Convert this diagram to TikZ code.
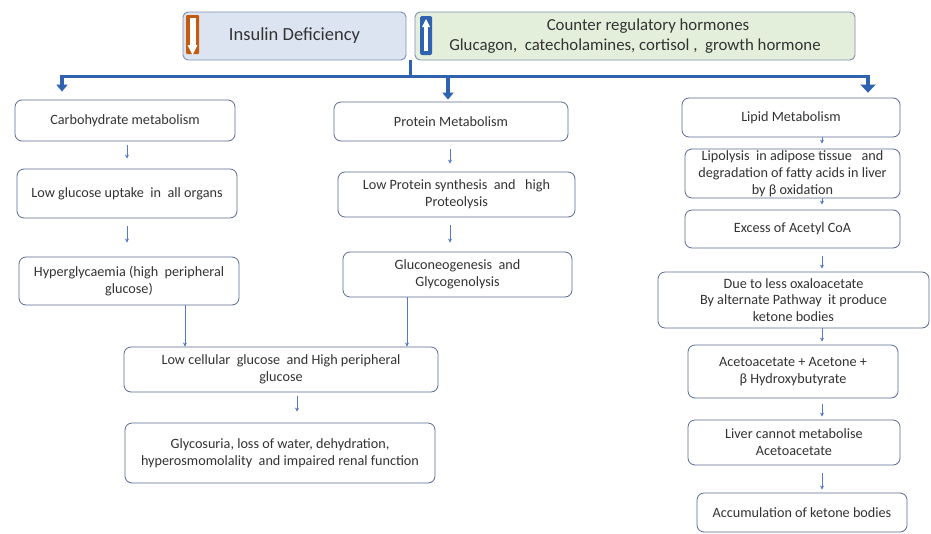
\documentclass[tikz,border=0pt]{standalone}
\usepackage{fontspec}
\setmainfont{Carlito}
\usetikzlibrary{arrows.meta,calc}
\definecolor{bord}{HTML}{5B6A94}
\definecolor{hbord}{HTML}{7F8FB0}
\definecolor{txt}{HTML}{333333}
\definecolor{insfill}{HTML}{DCE4F2}
\definecolor{cntfill}{HTML}{E3EFDB}
\definecolor{bigc}{HTML}{2F62B0}
\definecolor{arrc}{HTML}{5578C8}
\definecolor{orng}{HTML}{C55A11}
\newcommand\bodyfs{\fontsize{14.2}{16.8}\selectfont}
\newcommand\headfs{\fontsize{18.5}{21}\selectfont}
\newcommand\cntfs{\fontsize{16.8}{20.5}\selectfont}
\begin{document}
\begin{tikzpicture}[x=1pt,y=-1pt,
  box/.style={draw=bord, line width=0.8pt, rounded corners=7pt, fill=white, text=txt, align=center, font=\bodyfs, inner sep=1pt},
  hbox/.style={draw=hbord, line width=0.9pt, rounded corners=5pt, text=txt, align=center, inner sep=1pt},
  sarr/.style={draw=arrc, line width=0.6pt, -{Stealth[length=4pt,width=4pt]}},
  bigline/.style={draw=bigc, line width=3.8pt},
  bigarr/.style={bigline, -{Triangle[length=7pt,width=11pt]}},
  bigarrR/.style={bigline, -{Triangle[length=8pt,width=15pt]}}]
\path[use as bounding box, fill=white] (0,0) rectangle (931,533);

% header boxes
\node[hbox, fill=insfill, minimum width=223pt, minimum height=48pt, font=\headfs] (ins) at (294.5,36) {Insulin Deficiency};
\node[hbox, fill=cntfill, minimum width=440pt, minimum height=48pt, font=\cntfs] (cnt) at (635,36) {\hspace*{26pt}Counter regulatory hormones\\ Glucagon,\ \ catecholamines, cortisol ,\ \ growth hormone};

% icons
\fill[orng, rounded corners=1pt] (186,15) rectangle (199,54);
\fill[white] (189.5,18) rectangle (195.5,46);
\fill[white] (187.5,45) -- (197.5,45) -- (192.5,55) -- cycle;
\fill[bigc, rounded corners=1.5pt] (420,16) rectangle (432,55);
\fill[white] (426,19) -- (430,27) -- (422,27) -- cycle;
\fill[white] (424.3,26) rectangle (427.7,51);

% column 1
\node[box, minimum width=220pt, minimum height=41pt] (carb) at (125,120.5) {Carbohydrate metabolism};
\node[box, minimum width=220pt, minimum height=49pt] (lowg) at (127,193.5) {Low glucose uptake\ \ in\ \ all organs};
\node[box, minimum width=220pt, minimum height=48pt] (hyper) at (129,281) {Hyperglycaemia (high\ \ peripheral\\ glucose)};
% column 2
\node[box, minimum width=234pt, minimum height=39pt] (prot) at (451,121.5) {Protein Metabolism};
\node[box, minimum width=237pt, minimum height=45pt] (lowp) at (456.5,194.5) {Low Protein synthesis\ \ and\ \ \ high\\ Proteolysis};
\node[box, minimum width=229pt, minimum height=45pt] (gluco) at (457.5,274.5) {Gluconeogenesis\ \ and\\ Glycogenolysis};
% merged
\node[box, minimum width=314pt, minimum height=45pt] (lowc) at (281,369.5) {Low cellular\ \ glucose\ \ and High peripheral\\ glucose};
\node[box, minimum width=310pt, minimum height=60pt] (glyco) at (280,453) {Glycosuria, loss of water, dehydration,\\ hyperosmomolality\ \ and impaired renal function};
% column 3
\node[box, minimum width=218pt, minimum height=39pt] (lipid) at (791,117.5) {Lipid Metabolism};
\node[box, minimum width=215pt, minimum height=49pt] (lipo) at (792.5,173.5) {Lipolysis\ \ in adipose tissue\ \ \ and\\ degradation of fatty acids in liver\\ by β oxidation};
\node[box, minimum width=215pt, minimum height=38pt] (acetyl) at (792.5,229) {Excess of Acetyl CoA};
\node[box, minimum width=271pt, minimum height=56pt] (oxalo) at (793.5,300) {Due to less oxaloacetate\\ By alternate Pathway\ \ it produce\\ ketone bodies};
\node[box, minimum width=210pt, minimum height=53pt] (aceto) at (793,371.5) {Acetoacetate + Acetone +\\ β Hydroxybutyrate};
\node[box, minimum width=212pt, minimum height=45pt] (liver) at (794,442.5) {Liver cannot metabolise\\ Acetoacetate};
\node[box, minimum width=210pt, minimum height=39pt] (accum) at (802,512.5) {Accumulation of ketone bodies};

% column x positions
\coordinate (cA) at (127,0);
\coordinate (cB) at (450,0);
\coordinate (cH) at (185,0);
\coordinate (cG) at (407,0);
\coordinate (cC) at (297,0);
\coordinate (cR) at (822,0);
\coordinate (cL) at (62,0);
\coordinate (cM) at (448,0);
\coordinate (cRR) at (868,0);

% thick distribution arrows
\coordinate (stem) at ($(ins.south east)!0.5!(cnt.south west)$);
\coordinate (jn) at ($(stem)+(0,16)$);
\draw[bigline] (stem) -- (jn);
\draw[bigarr, shorten >=8pt] (jn) -| (carb.north -| cL);
\draw[bigarr, shorten >=2pt] (jn) -| (prot.north -| cM);
\draw[bigarrR, shorten >=5pt] (jn) -| (lipid.north -| cRR);

% small arrows
\draw[sarr, shorten <=4pt, shorten >=10pt] (carb.south -| cA) -- (lowg.north -| cA);
\draw[sarr, shorten <=8pt, shorten >=14pt] (lowg.south -| cA) -- (hyper.north -| cA);
\draw[sarr, shorten <=8pt, shorten >=8pt] (prot.south -| cB) -- (lowp.north -| cB);
\draw[sarr, shorten <=8pt, shorten >=9pt] (lowp.south -| cB) -- (gluco.north -| cB);
\draw[sarr] (hyper.south -| cH) -- (lowc.north -| cH);
\draw[sarr] (gluco.south -| cG) -- (lowc.north -| cG);
\draw[sarr, shorten <=4pt, shorten >=11pt] (lowc.south -| cC) -- (glyco.north -| cC);
\draw[sarr, shorten >=5pt] (lipid.south -| cR) -- (lipo.north -| cR);
\draw[sarr, shorten >=5pt] (lipo.south -| cR) -- (acetyl.north -| cR);
\draw[sarr, shorten <=8pt, shorten >=3pt] (acetyl.south -| cR) -- (oxalo.north -| cR);
\draw[sarr, shorten >=3pt] (oxalo.south -| cR) -- (aceto.north -| cR);
\draw[sarr, shorten <=6pt, shorten >=3pt] (aceto.south -| cR) -- (liver.north -| cR);
\draw[sarr, shorten <=8pt, shorten >=3pt] (liver.south -| cR) -- (accum.north -| cR);
\end{tikzpicture}
\end{document}
